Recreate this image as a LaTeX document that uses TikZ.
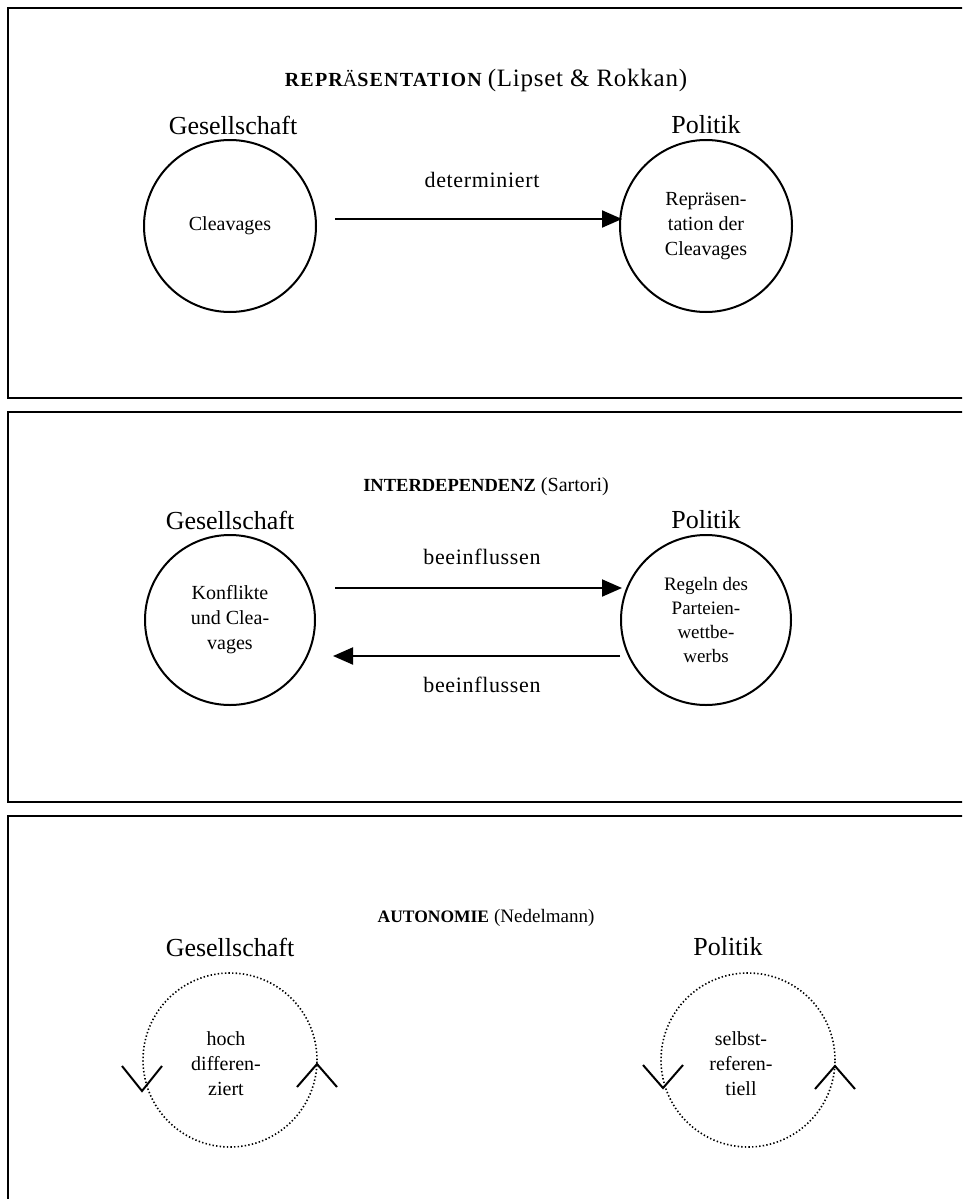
\documentclass[tikz,border=0pt]{standalone}
\usepackage{fontspec}
\setmainfont{Liberation Serif}
\usetikzlibrary{arrows.meta}
\newcommand{\tb}[3]{{\fontsize{#1}{#1}\selectfont\bfseries\addfontfeatures{LetterSpace=#2}#3}}
\newcommand{\tr}[3]{{\fontsize{#1}{#1}\selectfont\addfontfeatures{LetterSpace=#2}#3}}
\begin{document}
\begin{tikzpicture}[x=1pt,y=-1pt,
  panel/.style={draw=black,line width=2.5pt},
  title/.style={inner sep=0pt},
  side/.style={inner sep=0pt,font=\fontsize{26}{30}\selectfont},
  ring/.style={draw=black,line width=2pt,circle,minimum size=172pt,inner sep=0pt,align=center,font=\fontsize{20}{25}\selectfont},
  dotring/.style={draw=black,line width=1.6pt,dash pattern=on 1.4pt off 2.2pt,circle,minimum size=174pt,inner sep=0pt},
  intext/.style={inner sep=0pt,align=center,font=\fontsize{20}{25}\selectfont},
  lbl/.style={inner sep=0pt,font=\fontsize{22}{24}\selectfont\addfontfeatures{LetterSpace=3}},
  arr/.style={line width=2pt,-{Triangle[length=20pt,width=17pt]}},
  chev/.style={line width=2pt}
]
\useasboundingbox (0,0) rectangle (962,1199);
\fill[white] (0,0) rectangle (962,1199);
\clip (0,0) rectangle (962,1199);

% ---------- Panel 1 ----------
\draw[panel] (8,8) rectangle (990,398);
\node[title] (t1) at (486,80) {\tb{20}{6}{REPR}\tr{20}{6}{Ä}\tb{20}{6}{SENTATION}\hspace{6pt}\tr{25}{3}{(Lipset \& Rokkan)}};
\node[side] (g1) at (233,125) {Gesellschaft};
\node[side] (p1) at (706,125) {Politik};
\node[ring] (c1l) at (230,226) {Cleavages};
\node[ring] (c1r) at (706,226) {Repräsen-\\tation der\\Cleavages};
\coordinate (a1s) at (335,219);
\coordinate (a1e) at (622,219);
\draw[arr] (a1s) -- (a1e);
\node[lbl] (l1) at (482,180) {determiniert};

% ---------- Panel 2 ----------
\draw[panel] (8,412) rectangle (990,802);
\node[title] (t2) at (486,487) {\tb{18.5}{0}{INTERDEPENDENZ}\hspace{5pt}\tr{20}{0}{(Sartori)}};
\node[side] (g2) at (230,520) {Gesellschaft};
\node[side] (p2) at (706,520) {Politik};
\node[ring,minimum size=170pt] (c2l) at (230,620) {Konflikte\\und Clea-\\vages};
\node[ring,minimum size=170pt,font=\fontsize{19}{24}\selectfont] (c2r) at (706,620) {Regeln des\\Parteien-\\wettbe-\\werbs};
\coordinate (a2s) at (335,588);
\coordinate (a2e) at (622,588);
\coordinate (a3s) at (620,656);
\coordinate (a3e) at (333,656);
\draw[arr] (a2s) -- (a2e);
\draw[arr] (a3s) -- (a3e);
\node[lbl] (l2) at (482,557) {beeinflussen};
\node[lbl] (l3) at (482,685) {beeinflussen};

% ---------- Panel 3 ----------
\draw[panel] (8,816) rectangle (990,1260);
\node[title] (t3) at (486,918) {\tb{17.5}{0}{AUTONOMIE}\hspace{5pt}\tr{19}{0}{(Nedelmann)}};
\node[side] (g3) at (230,947) {Gesellschaft};
\node[side] (p3) at (728,947) {Politik};
\node[dotring] (c3l) at (230,1060) {};
\node[dotring] (c3r) at (748,1060) {};
\node[intext] (x3l) at (226,1064) {hoch\\differen-\\ziert};
\node[intext] (x3r) at (741,1064) {selbst-\\referen-\\tiell};
% open arrowheads on the cycles
\draw[chev] (122,1066) -- (142,1091) -- (162,1066);
\draw[chev] (297,1087) -- (317,1064) -- (337,1087);
\draw[chev] (643,1065) -- (663,1088) -- (683,1065);
\draw[chev] (815,1089) -- (835,1066) -- (855,1089);
\end{tikzpicture}
\end{document}
